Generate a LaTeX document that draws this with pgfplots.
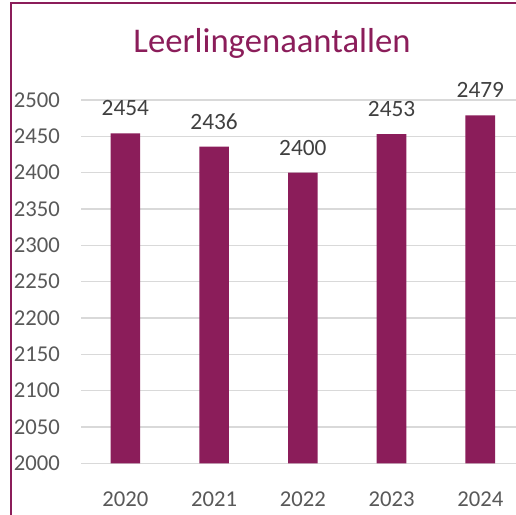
\documentclass[border=0pt]{standalone}
\usepackage{fontspec}
\setmainfont{Carlito}
\usepackage{pgfplots}
\pgfplotsset{compat=1.18}
\definecolor{barc}{HTML}{8B1D5A}
\definecolor{tickc}{HTML}{595959}
\definecolor{labc}{HTML}{404040}
\definecolor{gridc}{HTML}{D9D9D9}
\begin{document}
\begin{tikzpicture}[x=0.75pt,y=0.75pt]
\clip (0,0) rectangle (516,514);
\fill[white] (0,0) rectangle (516,514);
\draw[barc, line width=1.2pt] (11,-5) -- (11,511) -- (530,511);
\node[text=barc, anchor=base, inner sep=0pt, font=\fontsize{26}{31}\selectfont] at (272,461) {Leerlingenaantallen};
\begin{axis}[
  at={(60.75pt,38pt)}, anchor=south west,
  scale only axis, width=332.8pt, height=272.5pt,
  xmin=-0.5, xmax=4.5, ymin=2000, ymax=2500,
  ytick distance=50,
  xtick=data, xticklabels={2020,2021,2022,2023,2024},
  /pgf/number format/1000 sep={},
  /pgf/number format/assume math mode=true,
  axis line style={draw=none},
  major tick length=0pt,
  ymajorgrids, major grid style={gridc, line width=0.8pt},
  yticklabel style={anchor=east, inner sep=0pt, xshift=-15.75pt, text=tickc, font=\fontsize{17}{20}\selectfont},
  xticklabel style={anchor=north, inner sep=0pt, yshift=-21.4pt, text=tickc, font=\fontsize{17}{20}\selectfont},
  clip=false,
]
\addplot[ybar, bar width=22.3pt, fill=barc, draw=none,
  nodes near coords,
  every node near coord/.append style={anchor=south, inner sep=0pt, yshift=12.75pt, text=labc, font=\fontsize{17.5}{20}\selectfont}]
  coordinates {(0,2454) (1,2436) (2,2400) (3,2453) (4,2479)};
\end{axis}
\end{tikzpicture}
\end{document}
